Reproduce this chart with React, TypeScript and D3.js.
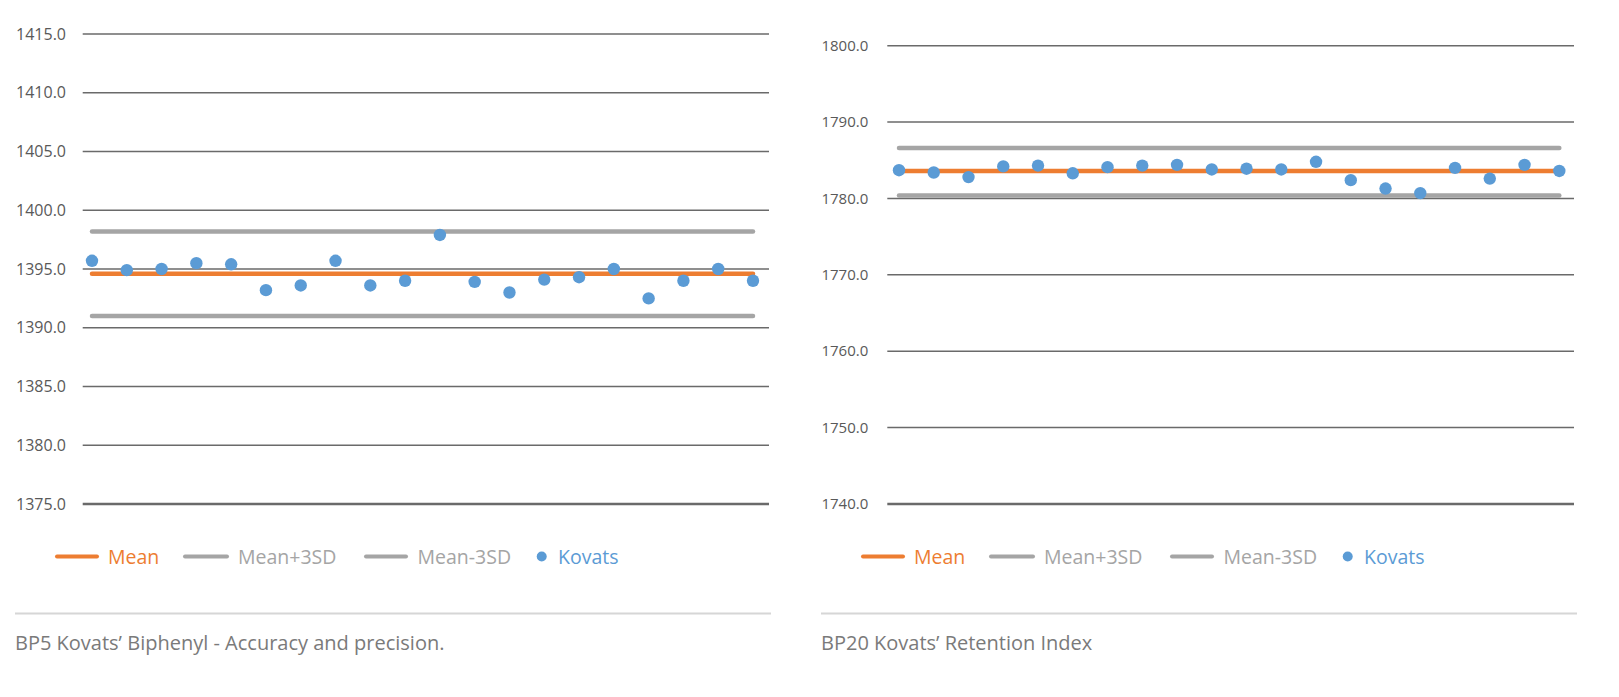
import React from "react";
import * as d3 from "d3";

// ---- Data ----
const categories = [1, 2, 3, 4, 5, 6, 7, 8, 9, 10, 11, 12, 13, 14, 15, 16, 17, 18, 19, 20];

const bp5Kovats = [1395.7, 1394.9, 1395.0, 1395.5, 1395.4, 1393.2, 1393.6, 1395.7, 1393.6, 1394.0,
  1397.9, 1393.9, 1393.0, 1394.1, 1394.3, 1395.0, 1392.5, 1394.0, 1395.0, 1394.0];
const bp5Mean = 1394.6;
const bp5Plus3SD = 1398.2;
const bp5Minus3SD = 1391.0;
const bp5Ticks = [1375, 1380, 1385, 1390, 1395, 1400, 1405, 1410, 1415];

const bp20Kovats = [1783.7, 1783.4, 1782.8, 1784.2, 1784.3, 1783.3, 1784.1, 1784.3, 1784.4, 1783.8,
  1783.9, 1783.8, 1784.8, 1782.4, 1781.3, 1780.7, 1784.0, 1782.6, 1784.4, 1783.6];
const bp20Mean = 1783.6;
const bp20Plus3SD = 1786.6;
const bp20Minus3SD = 1780.4;
const bp20Ticks = [1740, 1750, 1760, 1770, 1780, 1790, 1800];

const legendLabels = ["Mean", "Mean+3SD", "Mean-3SD", "Kovats"];
const captions = ["BP5 Kovats’ Biphenyl - Accuracy and precision.", "BP20 Kovats’ Retention Index"];

const ORANGE = "#ED7D31";
const GRAY = "#A5A5A5";
const BLUE = "#5B9BD5";
const GRID = "#6a6a6a";
const FONT = "'Open Sans', 'Noto Sans', sans-serif";

type PanelProps = {
  dx: number;
  values: number[];
  mean: number;
  plus: number;
  minus: number;
  ticks: number[];
  yDomain: [number, number];
  yRange: [number, number];
  gridX: [number, number];
  pointX: [number, number];
  labelX: number;
  labelSize: number;
  caption: string;
};

function Panel(p: PanelProps) {
  const x = d3.scalePoint<number>().domain(categories).range(p.pointX);
  const y = d3.scaleLinear().domain(p.yDomain).range(p.yRange);
  const fmt = d3.format(".1f");
  const constLine = (v: number) =>
    d3.line<number>().x((c) => x(c) as number).y(() => y(v))(categories) as string;

  const legendY = 556.5;
  const lx = p.dx;
  const legendItems = [
    { type: "line", x1: 57, x2: 97, tx: 108, color: ORANGE, label: legendLabels[0] },
    { type: "line", x1: 185, x2: 227, tx: 238, color: GRAY, label: legendLabels[1] },
    { type: "line", x1: 366, x2: 406, tx: 417.5, color: GRAY, label: legendLabels[2] },
    { type: "dot", x1: 541.7, x2: 541.7, tx: 558, color: BLUE, label: legendLabels[3] },
  ];

  return (
    <g>
      {p.ticks.map((t, i) => (
        <g key={t}>
          <line
            x1={p.gridX[0]}
            x2={p.gridX[1]}
            y1={y(t)}
            y2={y(t)}
            stroke={GRID}
            strokeWidth={i === 0 ? 2.5 : 1.5}
          />
          <text
            x={p.labelX}
            y={y(t)}
            dy="0.35em"
            textAnchor="end"
            fontSize={p.labelSize}
            fill="#595959"
            fontFamily={FONT}
          >
            {fmt(t)}
          </text>
        </g>
      ))}
      <path d={constLine(p.plus)} stroke={GRAY} strokeWidth={4.5} strokeLinecap="round" fill="none" />
      <path d={constLine(p.minus)} stroke={GRAY} strokeWidth={4.5} strokeLinecap="round" fill="none" />
      <path d={constLine(p.mean)} stroke={ORANGE} strokeWidth={4.5} strokeLinecap="round" fill="none" />
      {p.values.map((v, i) => (
        <circle key={i} cx={x(categories[i]) as number} cy={y(v)} r={6.2} fill={BLUE} />
      ))}
      {legendItems.map((it) => (
        <g key={it.label}>
          {it.type === "line" ? (
            <line
              x1={it.x1 + lx}
              x2={it.x2 + lx}
              y1={legendY}
              y2={legendY}
              stroke={it.color}
              strokeWidth={4}
              strokeLinecap="round"
            />
          ) : (
            <circle cx={it.x1 + lx} cy={legendY} r={5} fill={it.color} />
          )}
          <text x={it.tx + lx} y={563.5} fontSize={19.5} fill={it.color} fontFamily={FONT}>
            {it.label}
          </text>
        </g>
      ))}
      <line x1={15 + p.dx} x2={771 + p.dx} y1={613.5} y2={613.5} stroke="#d6d6d6" strokeWidth={2} />
      <text x={15 + p.dx} y={650} fontSize={20} fill="#7a7a7a" fontFamily={FONT}>
        {p.caption}
      </text>
    </g>
  );
}

export default function App() {
  return (
    <svg
      width={1619}
      height={697}
      style={{ position: "absolute", left: 0, top: 0, background: "#fff" }}
    >
      <rect x={0} y={0} width={1619} height={697} fill="#fff" />
      <Panel
        dx={0}
        values={bp5Kovats}
        mean={bp5Mean}
        plus={bp5Plus3SD}
        minus={bp5Minus3SD}
        ticks={bp5Ticks}
        yDomain={[1375, 1415]}
        yRange={[504, 34]}
        gridX={[82.7, 769]}
        pointX={[92, 753]}
        labelX={66}
        labelSize={16}
        caption={captions[0]}
      />
      <Panel
        dx={806}
        values={bp20Kovats}
        mean={bp20Mean}
        plus={bp20Plus3SD}
        minus={bp20Minus3SD}
        ticks={bp20Ticks}
        yDomain={[1740, 1800]}
        yRange={[504, 45.7]}
        gridX={[887.3, 1574]}
        pointX={[899, 1559.3]}
        labelX={868.3}
        labelSize={15}
        caption={captions[1]}
      />
    </svg>
  );
}
